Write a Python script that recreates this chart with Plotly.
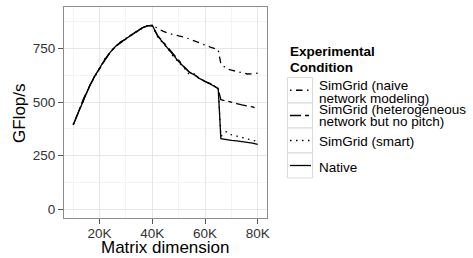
import plotly.graph_objects as go

# ---- data ----
matrix_k = [10, 12, 14, 16, 18, 20, 22, 24, 26, 28, 30, 32, 34, 36, 38, 40, 42, 44, 46, 48,
            50, 52, 54, 56, 58, 60, 62, 64, 65, 66, 68, 70, 72, 74, 76, 78, 80]
native = [395, 455, 518, 570, 618, 659, 700, 733, 760, 780, 797, 814, 830, 846, 856, 860, 810, 780, 750, 718,
          690, 665, 640, 628, 610, 598, 585, 573, 565, 330, 325, 322, 319, 316, 313, 309, 303]
smart = [397, 458, 515, 572, 615, 660, 703, 730, 762, 778, 799, 812, 832, 844, 857, 858, 805, 776, 748, 712,
         686, 662, 630, 632, 606, 600, 582, 575, 560, 340, 362, 348, 342, 335, 328, 322, 316]
hetero = [393, 452, 520, 568, 620, 657, 698, 735, 758, 782, 795, 815, 828, 847, 859, 856, 812, 783, 752, 720,
          692, 667, 642, 625, 612, 596, 587, 571, 563, 512, 505, 498, 494, 488, 484, 478, 470]
naive = [396, 456, 517, 571, 619, 658, 701, 734, 761, 779, 796, 813, 831, 845, 857, 860, 845, 832, 822, 815,
         810, 805, 795, 788, 778, 768, 758, 750, 745, 680, 658, 650, 645, 638, 632, 633, 636]

x_tick_vals = [20, 40, 60, 80]
x_tick_text = ["20K", "40K", "60K", "80K"]
y_tick_vals = [0, 250, 500, 750]

W, H = 473, 258
L, R, T, B = 64, 267, 7, 218
FONT = "Liberation Sans, Arial, sans-serif"

dashes = {
    "naive": "1.5px,4.5px,6.5px,4.5px",
    "hetero": "11px,4px,4px,4px",
    "smart": "1.5px,4.5px",
    "native": "solid",
}

fig = go.Figure()
for vals, key in [(naive, "naive"), (hetero, "hetero"), (smart, "smart"), (native, "native")]:
    fig.add_trace(go.Scatter(x=matrix_k, y=vals, mode="lines",
                             line=dict(color="black", width=1.3, dash=dashes[key]),
                             showlegend=False, hoverinfo="skip"))

def px_x(px):
    return (px - L) / (R - L)

def px_y(py):
    return (B - py) / (B - T)

shapes = []
annotations = []
# legend keys
boxes = [(77.5, 103), (103, 128), (128, 153), (153, 178)]
keys = ["naive", "hetero", "smart", "native"]
for (y0, y1), k in zip(boxes, keys):
    shapes.append(dict(type="rect", xref="paper", yref="paper",
                       x0=px_x(287.5), x1=px_x(312.5), y0=px_y(y1), y1=px_y(y0),
                       line=dict(color="#d9d9d9", width=1), fillcolor="white", layer="above"))
    yc = (y0 + y1) / 2
    shapes.append(dict(type="line", xref="paper", yref="paper",
                       x0=px_x(290), x1=px_x(311), y0=px_y(yc), y1=px_y(yc),
                       line=dict(color="black", width=1.3, dash=dashes[k]), layer="above"))

legend_texts = [
    ("Experimental", 288, 52, True),
    ("Condition", 288, 67, True),
    ("SimGrid (naive", 317, 85, False),
    ("network modeling)", 317, 98, False),
    ("SimGrid (heterogeneous", 317, 109.5, False),
    ("network but no pitch)", 317, 121, False),
    ("SimGrid (smart)", 317, 141, False),
    ("Native", 317, 167, False),
]
for txt, x, y, bold in legend_texts:
    annotations.append(dict(text=("<b>%s</b>" % txt) if bold else txt, xref="paper", yref="paper",
                            x=px_x(x), y=px_y(y), xanchor="left", yanchor="middle",
                            showarrow=False, font=dict(family=FONT, size=13.5, color="black")))

annotations.append(dict(text="Matrix dimension", xref="paper", yref="paper",
                        x=px_x(165.5), y=px_y(248), xanchor="center", yanchor="middle",
                        showarrow=False, font=dict(family=FONT, size=17, color="black")))
annotations.append(dict(text="GFlop/s", xref="paper", yref="paper", textangle=-90,
                        x=px_x(19), y=px_y(113), xanchor="center", yanchor="middle",
                        showarrow=False, font=dict(family=FONT, size=17, color="black")))

fig.update_layout(
    width=W, height=H,
    margin=dict(l=L, r=W - R, t=T, b=H - B, pad=0),
    paper_bgcolor="white", plot_bgcolor="white",
    font=dict(family=FONT, color="#333333"),
    shapes=shapes, annotations=annotations,
    xaxis=dict(range=[6.5, 83.5], tickvals=x_tick_vals, ticktext=x_tick_text,
               showgrid=True, gridcolor="#e6e6e6", gridwidth=1,
               minor=dict(tickvals=[10, 30, 50, 70], showgrid=True, gridcolor="#f3f3f3", gridwidth=1),
               ticks="outside", ticklen=5, tickcolor="#555555", tickwidth=1,
               ticklabelstandoff=-2,
               tickfont=dict(size=13.5, color="#333333", family=FONT),
               showline=True, linecolor="#8c8c8c", linewidth=1, mirror=True, zeroline=False),
    yaxis=dict(range=[-41, 945], tickvals=y_tick_vals,
               showgrid=True, gridcolor="#e6e6e6", gridwidth=1,
               minor=dict(tickvals=[125, 375, 625, 875], showgrid=True, gridcolor="#f3f3f3", gridwidth=1),
               ticks="outside", ticklen=5, tickcolor="#555555", tickwidth=1,
               tickfont=dict(size=13.5, color="#333333", family=FONT),
               showline=True, linecolor="#8c8c8c", linewidth=1, mirror=True, zeroline=False),
)

fig.write_html("out.html", config={"displayModeBar": False},
               post_script="document.body.style.margin='0px';document.body.style.padding='0px';")
